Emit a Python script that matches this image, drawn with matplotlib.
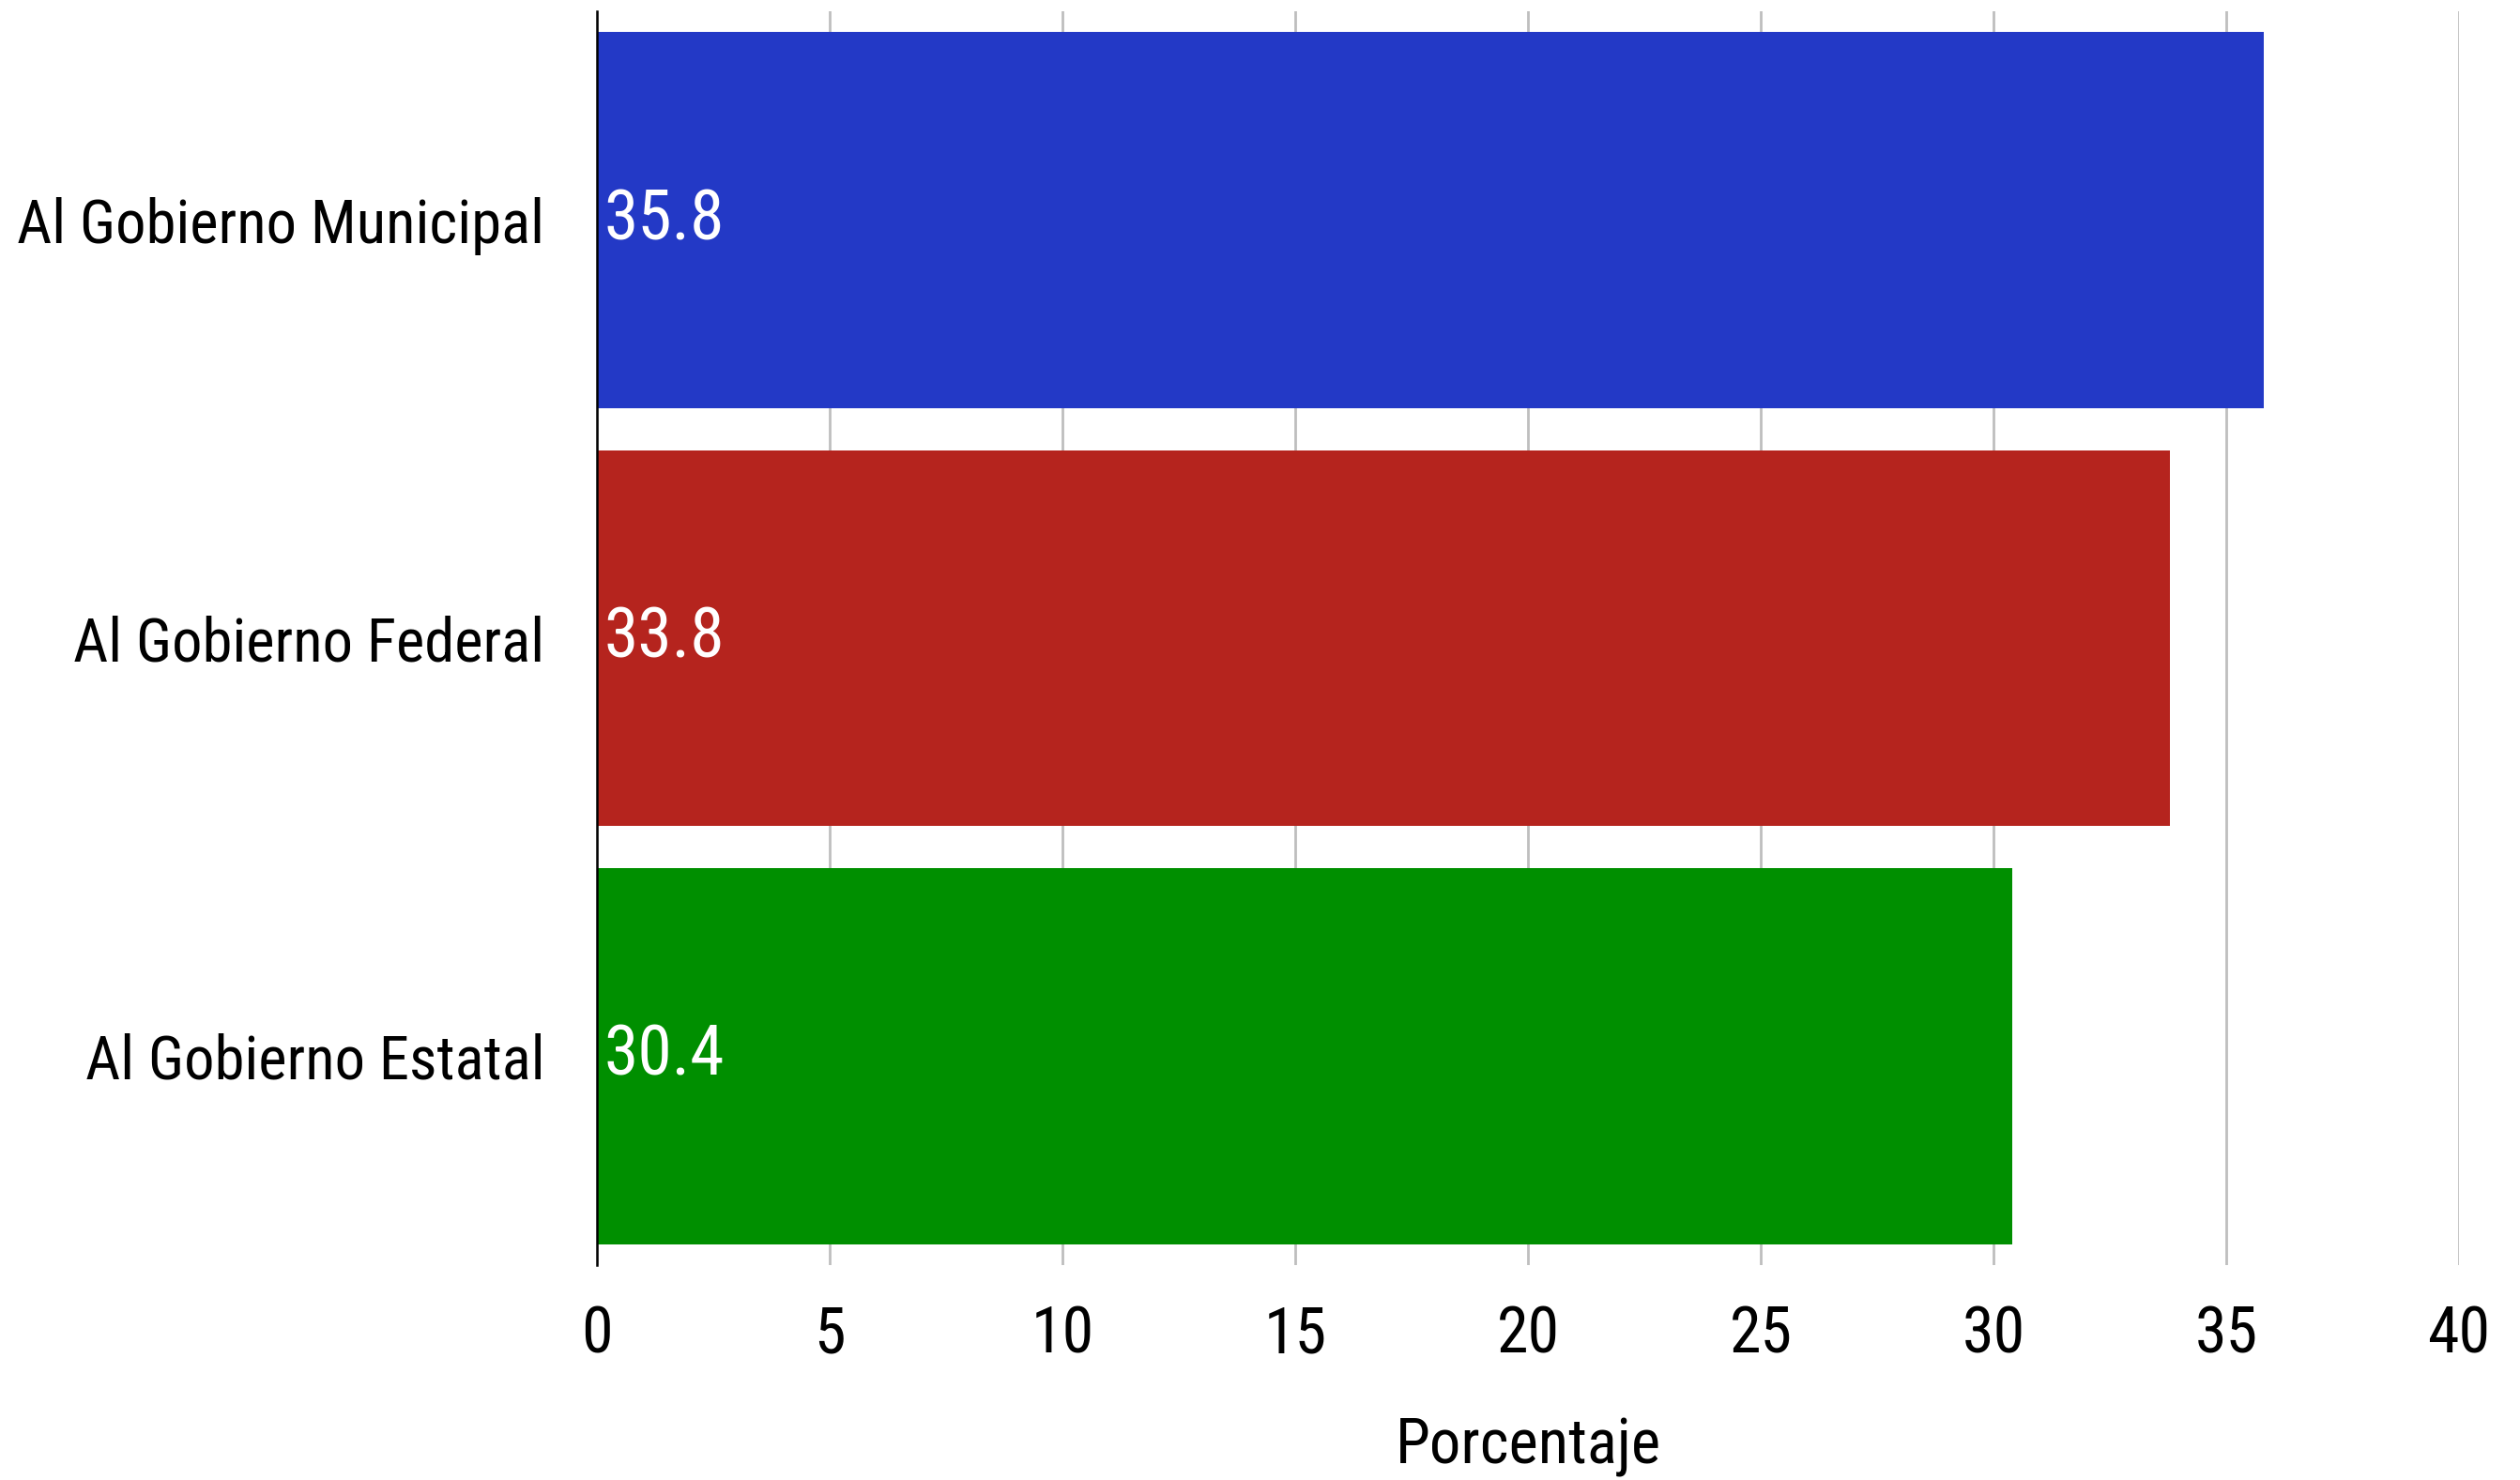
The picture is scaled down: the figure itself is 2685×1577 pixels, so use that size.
import matplotlib
matplotlib.use("Agg")
import matplotlib.pyplot as plt
from matplotlib import font_manager as fm

categories = ["Al Gobierno Municipal", "Al Gobierno Federal", "Al Gobierno Estatal"]
values = [35.8, 33.8, 30.4]
colors = ["#2339C6", "#B5241E", "#008F00"]
xticks = [0, 5, 10, 15, 20, 25, 30, 35, 40]
xlabel = "Porcentaje"

names = {f.name for f in fm.fontManager.ttflist}
if "Roboto Condensed" in names:
    fam = ["Roboto Condensed", "DejaVu Sans"]
    stretch = "normal"
else:
    fam = ["Roboto", "DejaVu Sans"]
    stretch = "condensed"
plt.rcParams["font.family"] = fam
plt.rcParams["font.stretch"] = stretch

W, H = 2685, 1577
fig = plt.figure(figsize=(W / 100, H / 100), dpi=100)
left, right, top, bottom = 636, 2620, 12, 1348
ax = fig.add_axes([left / W, 1 - bottom / H, (right - left) / W, (bottom - top) / H])

ypos = list(range(len(categories)))
ax.barh(ypos, values, height=0.9, color=colors, zorder=3)
ax.set_ylim(2.5, -0.5)
ax.set_xlim(0, 40)
ax.set_xticks(xticks)
ax.set_xticklabels([str(t) for t in xticks])
ax.set_yticks(ypos)
ax.set_yticklabels(categories)

ax.grid(axis="x", color="#BEBEBE", linewidth=2.0, zorder=0)
ax.grid(axis="y", visible=False)
for s in ["top", "right", "bottom"]:
    ax.spines[s].set_visible(False)
ax.spines["left"].set_color("black")
ax.spines["left"].set_linewidth(1.8)
ax.spines["left"].set_zorder(4)

ax.tick_params(axis="x", length=0, pad=30, labelsize=49, labelcolor="black")
ax.tick_params(axis="y", length=0, pad=40, labelsize=46.5, labelcolor="black")
ax.set_xlabel(xlabel, fontsize=48, labelpad=39)

for y, v in zip(ypos, values):
    ax.text(0.15, y, f"{v:.1f}", color="white", fontsize=53, ha="left", va="center", zorder=5)

fig.savefig("out.png", dpi=100)
